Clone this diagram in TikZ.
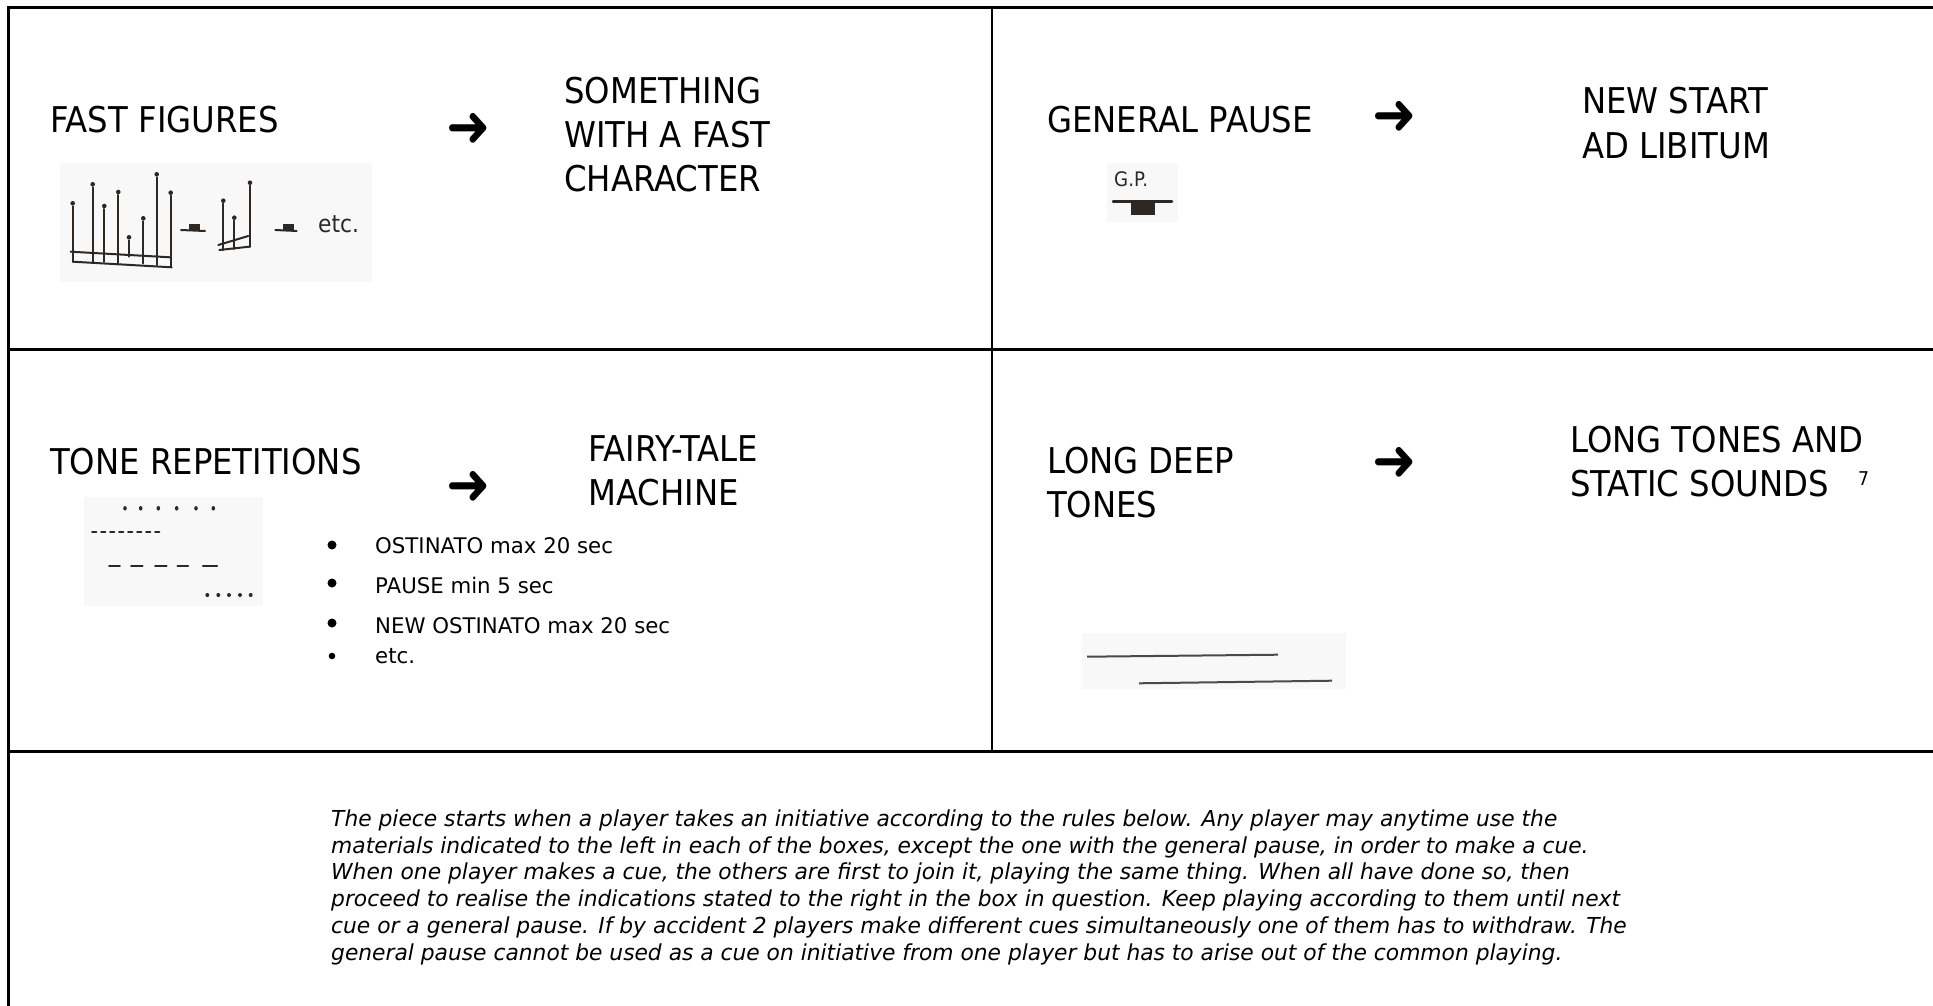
\documentclass[tikz,border=0pt]{standalone}
\usepackage{fontspec}
\setmainfont{DejaVu Sans}[FakeStretch=0.91]
\newfontfamily\widefont{DejaVu Sans}[FakeStretch=0.99]
\usepackage{xcolor}
\usepackage{tikz}
\usetikzlibrary{positioning}
\definecolor{inkc}{HTML}{2E2824}
\definecolor{paperc}{HTML}{F8F8F8}
\definecolor{pencil}{HTML}{4A4A4A}

\begin{document}
\begin{tikzpicture}[x=1pt,y=-1pt,
  head/.style={anchor=base west,inner sep=0pt,align=left,font=\fontsize{35.5}{44}\selectfont},
  go/.style={anchor=center,inner sep=0pt,font=\fontsize{58}{58}\selectfont},
  item/.style={anchor=base west,inner sep=0pt,font=\widefont\fontsize{21.5}{26}\selectfont},
  hand/.style={anchor=base west,inner sep=0pt,text=inkc},
  sheet/.style={fill=paperc},
  ink/.style={draw=inkc,line width=2pt,line cap=round},
  rule/.style={draw=black,line width=3pt}]
\useasboundingbox (0,0) rectangle (1933,1006);
\draw[rule] (8,1006) -- (8,8) -- (1933,8);
\draw[rule] (8,349) -- (1933,349);
\draw[rule] (8,751) -- (1933,751);
\draw[line width=1.5pt] (992,8) -- (992,751);

\node[head] (fast) at (50,132) {FAST FIGURES};
\node[go] (go1) at (469,129.5) {➜};
\node[head] (fastres) at (564,191) {SOMETHING\\WITH A FAST\\CHARACTER};
\fill[sheet] (60,163) rectangle (372,282);
\foreach \x/\t/\b in {72.7/203.3/261.7, 92.7/184.3/261.7, 104.3/206/261.7, 118.3/192/263.3,
  129/237.3/256.7, 143.3/218.3/263.3, 156.7/174.3/265, 170.7/192.7/266.7,
  223.3/200.7/250, 234.3/217.7/249, 250/182.7/247}{
  \draw[ink] (\x,\t+3) -- (\x,\b);
  \fill[inkc] (\x,\t) circle (2.3);}
\draw[ink] (70.7,251.7) -- (170,257.3);
\draw[ink] (72.7,261.7) -- (171.7,267.3);
\draw[ink] (218.3,245) -- (248.3,236);
\draw[ink] (219.3,250) -- (249,246.7);
\foreach \a/\b in {181/205, 275.3/296.7}{
  \draw[ink] (\a,230) -- (\b,231);
  \fill[inkc] (\a+7.5,223.5) rectangle (\a+19,230);}
\node[hand,font=\fontsize{24}{24}\selectfont] (etc) at (318,232) {etc.};

\node[head] (pause) at (1047,132) {GENERAL PAUSE};
\node[go] (go2) at (1395,118) {➜};
\node[head] (pauseres) at (1582,158) {NEW START\\AD LIBITUM};
\fill[sheet] (1107,163) rectangle (1178,222);
\node[hand,font=\fontsize{20}{20}\selectfont] (gp) at (1114,186) {G.P.};
\draw[ink,line width=2.5pt] (1113,201.7) -- (1172,201.7);
\fill[inkc] (1131,201.7) rectangle (1155,215);

\node[head] (rep) at (50,474) {TONE REPETITIONS};
\node[go] (go3) at (469,488) {➜};
\node[head] (represh) at (588,505) {FAIRY-TALE\\MACHINE};
\fill[sheet] (84,497) rectangle (263,606);
\foreach \x in {125,140.7,158.3,176.7,196,213.3} \fill[inkc] (\x,508.3) ellipse (1.8 and 2.3);
\foreach \i in {0,...,7} \draw[ink,line width=1.8pt] ({92+\i*9},532.3) -- ({96.5+\i*9},532.3);
\foreach \a/\b in {109/120,131/142.7,155/166.7,177.3/188.3,202.7/217.3} \draw[ink,line width=1.6pt] (\a,566) -- (\b,566);
\foreach \x in {207.3,218.3,229,240,250.7} \fill[inkc] (\x,595) circle (2);
\foreach \t/\y [count=\i] in {{OSTINATO max 20 sec}/553,{PAUSE min 5 sec}/593,{NEW OSTINATO max 20 sec}/633,{etc.}/663}
  \node[item] (item\i) at (375,\y) {\t};
\foreach \y/\r in {545/4.5,583/4.5,623/4.5,656/3.3} \fill (332,\y) circle (\r);

\node[head] (deep) at (1047,517) {LONG DEEP\\TONES};
\node[go] (go4) at (1395,464) {➜};
\node[head] (deepres) at (1570,496) {LONG TONES AND\\STATIC SOUNDS};
\node[anchor=base west,inner sep=0pt,font=\fontsize{19}{19}\selectfont] (note7) at (1858,485) {7};
\fill[sheet] (1082,633) rectangle (1346,689);
\draw[pencil,line width=2pt] (1087,656.7) -- (1278,654.7);
\draw[pencil,line width=2pt] (1139,683.3) -- (1332,680.7);

\node[anchor=base west,inner sep=0pt,align=left,font=\widefont\fontsize{22}{26.7}\selectfont\itshape] (rules) at (331,960)
  {The piece starts when a player takes an initiative according to the rules below. Any player may anytime use the\\
   materials indicated to the left in each of the boxes, except the one with the general pause, in order to make a cue.\\
   When one player makes a cue, the others are first to join it, playing the same thing. When all have done so, then\\
   proceed to realise the indications stated to the right in the box in question. Keep playing according to them until next\\
   cue or a general pause. If by accident 2 players make different cues simultaneously one of them has to withdraw. The\\
   general pause cannot be used as a cue on initiative from one player but has to arise out of the common playing.};
\end{tikzpicture}
\end{document}
